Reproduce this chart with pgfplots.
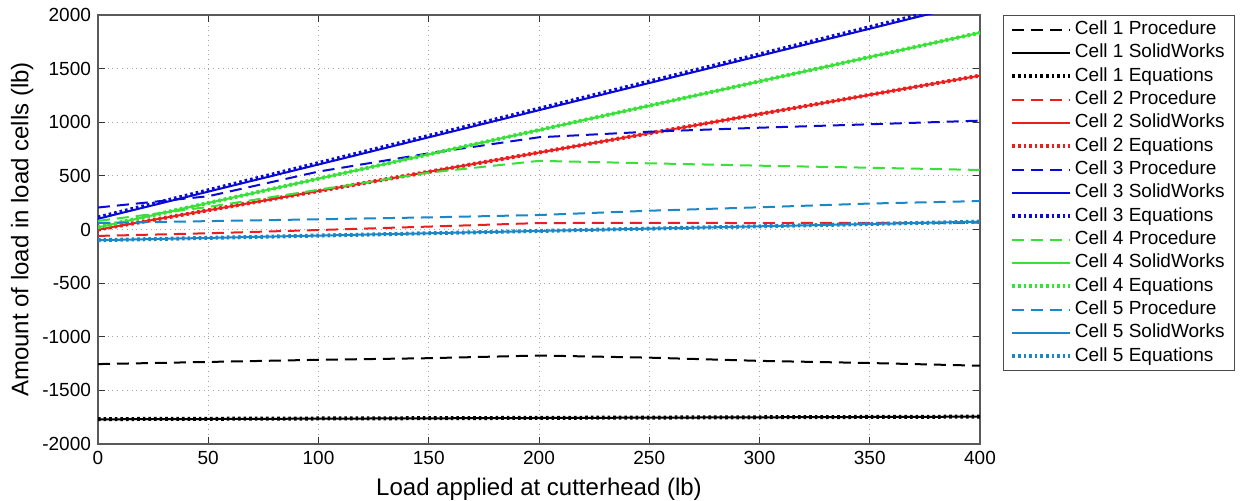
\documentclass[border=0pt]{standalone}
\usepackage{fontspec}
\setmainfont{Liberation Sans}
\usepackage{pgfplots}
\pgfplotsset{compat=1.18}

\definecolor{cellred}{RGB}{235,30,30}
\definecolor{cellblue}{RGB}{10,10,215}
\definecolor{cellgreen}{RGB}{55,225,55}
\definecolor{celllight}{RGB}{25,135,200}

\pgfplotsset{
  proc/.style={line width=1pt, dash pattern=on 6pt off 3.5pt},
  sw/.style={line width=1pt},
  eq/.style={line width=2pt, dash pattern=on 1.3pt off 1.5pt},
}

\begin{document}
\begin{tikzpicture}
\path[use as bounding box] (0,0) rectangle (621pt,250.5pt);
\begin{axis}[
  at={(49pt,28.5pt)}, anchor=south west,
  scale only axis, width=441pt, height=214.5pt,
  xmin=0, xmax=400, ymin=-2000, ymax=2000,
  xtick={0,50,...,400}, ytick={-2000,-1500,...,2000},
  grid=major, major grid style={dotted, gray!70, line width=0.4pt},
  tick align=inside, tick pos=both, major tick length=3.5pt,
  axis line style={gray!70!black, line width=0.6pt},
  tick style={black!80, line width=0.5pt},
  tick label style={font=\fontsize{9.5}{11}\selectfont},
  /pgf/number format/assume math mode=true,
  /pgf/number format/1000 sep={},
  scaled ticks=false,
  xlabel={Load applied at cutterhead (lb)},
  ylabel={Amount of load in load cells (lb)},
  label style={font=\fontsize{12}{14}\selectfont},
  xlabel style={at={(axis description cs:0.5,-0.105)}, anchor=center},
  ylabel style={at={(axis description cs:-0.086,0.5)}, anchor=center},
  legend style={at={(1.026,1)}, anchor=north west,
    font=\fontsize{9.5}{11}\selectfont, draw=gray!60!black,
    inner ysep=1.3pt, inner xsep=3.5pt,
    nodes={text height=7pt, text depth=2pt, inner sep=1.33pt}},
  legend cell align=left,
  legend image code/.code={\draw[#1] (0pt,0pt) -- (29pt,0pt);},
]
% Cell 1
\addplot[black, proc] coordinates {(0,-1255) (50,-1235) (100,-1215) (150,-1200) (200,-1175) (250,-1195) (300,-1225) (350,-1245) (400,-1270)};
\addlegendentry{Cell 1 Procedure}
\addplot[black, sw] coordinates {(0,-1770) (400,-1745)};
\addlegendentry{Cell 1 SolidWorks}
\addplot[black, eq] coordinates {(0,-1768) (400,-1745)};
\addlegendentry{Cell 1 Equations}
% Cell 2
\addplot[cellred, proc] coordinates {(0,-60) (50,-35) (100,-5) (150,27) (200,60) (250,62) (300,60) (350,62) (400,63)};
\addlegendentry{Cell 2 Procedure}
\addplot[cellred, sw] coordinates {(0,0) (400,1435)};
\addlegendentry{Cell 2 SolidWorks}
\addplot[cellred, eq] coordinates {(0,0) (400,1435)};
\addlegendentry{Cell 2 Equations}
% Cell 3
\addplot[cellblue, proc] coordinates {(0,205) (50,310) (100,540) (150,710) (200,860) (250,912) (300,949) (350,981) (400,1015)};
\addlegendentry{Cell 3 Procedure}
\addplot[cellblue, sw] coordinates {(0,100) (400,2125)};
\addlegendentry{Cell 3 SolidWorks}
\addplot[cellblue, eq] coordinates {(0,112) (400,2140)};
\addlegendentry{Cell 3 Equations}
% Cell 4
\addplot[cellgreen, proc] coordinates {(0,80) (50,210) (100,370) (150,530) (200,640) (250,617) (300,595) (350,576) (400,555)};
\addlegendentry{Cell 4 Procedure}
\addplot[cellgreen, sw] coordinates {(0,20) (400,1835)};
\addlegendentry{Cell 4 SolidWorks}
\addplot[cellgreen, eq] coordinates {(0,20) (400,1835)};
\addlegendentry{Cell 4 Equations}
% Cell 5
\addplot[celllight, proc] coordinates {(0,60) (50,78) (100,95) (150,113) (200,135) (250,175) (300,207) (350,242) (400,265)};
\addlegendentry{Cell 5 Procedure}
\addplot[celllight, sw] coordinates {(0,-100) (400,73)};
\addlegendentry{Cell 5 SolidWorks}
\addplot[celllight, eq] coordinates {(0,-100) (400,73)};
\addlegendentry{Cell 5 Equations}
\end{axis}
\end{tikzpicture}
\end{document}
